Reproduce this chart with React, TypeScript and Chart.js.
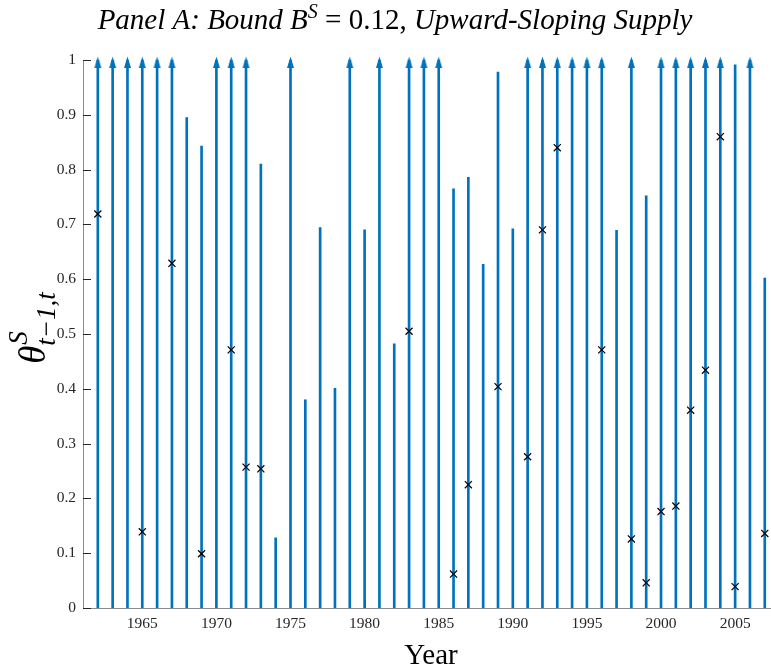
import React, { useEffect, useRef } from 'react';
import { Chart, registerables } from 'chart.js';

Chart.register(...registerables);

const years = [
  1962, 1963, 1964, 1965, 1966, 1967, 1968, 1969, 1970, 1971,
  1972, 1973, 1974, 1975, 1976, 1977, 1978, 1979, 1980, 1981,
  1982, 1983, 1984, 1985, 1986, 1987, 1988, 1989, 1990, 1991,
  1992, 1993, 1994, 1995, 1996, 1997, 1998, 1999, 2000, 2001,
  2002, 2003, 2004, 2005, 2006, 2007,
];

// upper bound of each year's interval (1 = unbounded, drawn with an arrow)
const stemValues = [
  1, 1, 1, 1, 1, 1, 0.895, 0.843, 1, 1,
  1, 0.81, 0.128, 1, 0.38, 0.694, 0.401, 1, 0.69, 1,
  0.482, 1, 1, 1, 0.765, 0.786, 0.627, 0.978, 0.692, 1,
  1, 1, 1, 1, 1, 0.689, 1, 0.752, 1, 1,
  1, 1, 1, 0.991, 1, 0.602,
];

const markerYears = [
  1962, 1965, 1967, 1969, 1971, 1972, 1973, 1983, 1986, 1987,
  1989, 1991, 1992, 1993, 1996, 1998, 1999, 2000, 2001, 2002,
  2003, 2004, 2005, 2007,
];
const markerValues = [
  0.719, 0.139, 0.629, 0.099, 0.471, 0.257, 0.254, 0.505, 0.062, 0.225,
  0.404, 0.276, 0.69, 0.84, 0.471, 0.126, 0.046, 0.176, 0.186, 0.361,
  0.434, 0.86, 0.039, 0.136,
];

const xTickValues = [1965, 1970, 1975, 1980, 1985, 1990, 1995, 2000, 2005];
const yTickValues = [0, 0.1, 0.2, 0.3, 0.4, 0.5, 0.6, 0.7, 0.8, 0.9, 1];
const yTickLabels = ['0', '0.1', '0.2', '0.3', '0.4', '0.5', '0.6', '0.7', '0.8', '0.9', '1'];

const BLUE = '#0072BD';
const SERIF = '"Liberation Serif", "Times New Roman", serif';

function makeArrowHead(): HTMLCanvasElement {
  const c = document.createElement('canvas');
  c.width = 9;
  c.height = 24;
  const g = c.getContext('2d')!;
  g.fillStyle = BLUE;
  g.beginPath();
  g.moveTo(4.5, 8.5);
  g.lineTo(1, 20);
  g.lineTo(8, 20);
  g.closePath();
  g.fill();
  return c;
}

const decorPlugin = {
  id: 'decor',
  beforeDatasetsDraw(chart: any) {
    const ctx = chart.ctx;
    const area = chart.chartArea;
    const xs = chart.scales.x;
    const ys = chart.scales.y;
    ctx.save();
    ctx.strokeStyle = '#262626';
    ctx.lineWidth = 1;
    ctx.beginPath();
    yTickValues.forEach((v) => {
      const py = Math.round(ys.getPixelForValue(v)) + 0.5;
      ctx.moveTo(area.left, py);
      ctx.lineTo(area.left + 8, py);
    });
    xTickValues.forEach((v) => {
      const px = Math.round(xs.getPixelForValue(v)) + 0.5;
      ctx.moveTo(px, area.bottom);
      ctx.lineTo(px, area.bottom - 8);
    });
    ctx.stroke();
    ctx.restore();
  },
  afterDraw(chart: any) {
    const ctx = chart.ctx;
    const area = chart.chartArea;
    ctx.save();
    ctx.fillStyle = '#000';
    ctx.textBaseline = 'alphabetic';
    ctx.textAlign = 'left';

    // Title
    const segs = [
      { t: 'Panel A: Bound B', f: `italic 29px ${SERIF}`, dy: 0 },
      { t: 'S', f: `italic 20px ${SERIF}`, dy: -11 },
      { t: ' = 0.12,', f: `29px ${SERIF}`, dy: 0 },
      { t: ' Upward-Sloping Supply', f: `italic 29px ${SERIF}`, dy: 0 },
    ];
    let total = 0;
    const widths = segs.map((s) => {
      ctx.font = s.f;
      const w = ctx.measureText(s.t).width;
      total += w;
      return w;
    });
    let x = 395 - total / 2;
    const base = 29;
    segs.forEach((s, i) => {
      ctx.font = s.f;
      ctx.fillText(s.t, x, base + s.dy);
      x += widths[i];
    });

    // X axis title
    ctx.font = `29px ${SERIF}`;
    ctx.textAlign = 'center';
    ctx.fillText('Year', (area.left + area.right) / 2 + 4, 664);

    // Y axis title: theta^S_{t-1,t}
    ctx.translate(33, (area.top + area.bottom) / 2 - 6);
    ctx.rotate(-Math.PI / 2);
    ctx.textAlign = 'left';
    const thetaFont = `italic 37px ${SERIF}`;
    const scriptFont = `italic 27px ${SERIF}`;
    ctx.font = thetaFont;
    const wT = ctx.measureText('θ').width;
    ctx.font = scriptFont;
    const wSub = ctx.measureText('t−1,t').width;
    const wSup = ctx.measureText('S').width;
    const tw = wT + Math.max(wSub, wSup);
    const sx = -tw / 2;
    ctx.font = thetaFont;
    ctx.fillText('θ', sx, 12);
    ctx.font = scriptFont;
    ctx.fillText('S', sx + wT + 1, -6);
    ctx.fillText('t−1,t', sx + wT, 22);
    ctx.restore();
  },
};

export default function App() {
  const ref = useRef<HTMLCanvasElement>(null);

  useEffect(() => {
    if (!ref.current) return;
    const arrow = makeArrowHead();
    const tickFont = { family: SERIF, size: 15.5 };

    const chart = new Chart(ref.current, {
      type: 'bar',
      data: {
        datasets: [
          {
            type: 'scatter',
            label: 'bounds',
            data: markerYears.map((yr, i) => ({ x: yr, y: markerValues[i] })),
            pointStyle: 'crossRot',
            radius: 5,
            borderColor: '#000',
            backgroundColor: '#000',
            borderWidth: 1.2,
            order: 0,
          } as any,
          {
            type: 'scatter',
            label: 'arrows',
            data: years
              .map((yr, i) => ({ x: yr, y: stemValues[i] }))
              .filter((p) => p.y >= 1),
            pointStyle: arrow,
            radius: 5,
            clip: false,
            order: 1,
          } as any,
          {
            type: 'bar',
            label: 'stems',
            data: years.map((yr, i) => ({ x: yr, y: stemValues[i] })),
            backgroundColor: BLUE,
            borderWidth: 0,
            barThickness: 2,
            grouped: false,
            order: 2,
          } as any,
        ],
      },
      options: {
        animation: false,
        responsive: false,
        layout: { autoPadding: false, padding: { top: 60, left: 0, right: 0, bottom: 0 } },
        plugins: {
          legend: { display: false },
          tooltip: { enabled: false },
          title: { display: false },
        },
        scales: {
          x: {
            type: 'linear',
            min: 1961,
            max: 2007.42,
            offset: false,
            grid: { display: false, drawTicks: false },
            border: { display: true, color: '#8a8a8a', width: 1 },
            ticks: {
              font: tickFont,
              color: '#262626',
              padding: 7,
              autoSkip: false,
              maxRotation: 0,
              callback: (v: any) => String(v),
            },
            afterBuildTicks: (s: any) => {
              s.ticks = xTickValues.map((v) => ({ value: v }));
            },
            afterFit: (s: any) => {
              s.height = 63;
            },
          },
          y: {
            type: 'linear',
            min: 0,
            max: 1,
            grid: { display: false, drawTicks: false },
            border: { display: true, color: '#8a8a8a', width: 1 },
            ticks: {
              font: tickFont,
              color: '#262626',
              padding: 7,
              autoSkip: false,
              callback: (_v: any, i: number) => yTickLabels[i],
            },
            afterBuildTicks: (s: any) => {
              s.ticks = yTickValues.map((v) => ({ value: v }));
            },
            afterFit: (s: any) => {
              s.width = 83;
            },
          },
        },
      } as any,
      plugins: [decorPlugin],
    });
    return () => chart.destroy();
  }, []);

  return (
    <canvas
      ref={ref}
      width={771}
      height={671}
      style={{ position: 'fixed', left: 0, top: 0, width: 771, height: 671, display: 'block', background: '#fff' }}
    />
  );
}
